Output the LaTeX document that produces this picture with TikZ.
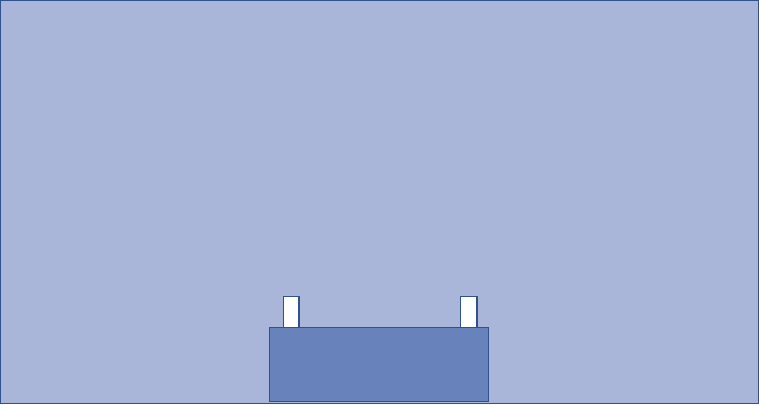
\documentclass[tikz,border=0pt]{standalone}
\definecolor{bgblue}{HTML}{A9B6D9}
\definecolor{boxblue}{HTML}{6882BC}
\definecolor{edgeblue}{HTML}{2F528F}
\begin{document}
\begin{tikzpicture}[x=1pt,y=-1pt,
  outlined/.style={draw=edgeblue,line width=1.2pt}]
\useasboundingbox (0,0) rectangle (759,404);
\path[outlined,fill=bgblue] (0.8,0.8) rectangle (758.2,403.2);
\path[outlined,fill=boxblue] (269.5,327.5) rectangle (488.5,401.5);
\path[outlined,fill=white] (283.5,296.5) rectangle (299,327.5);
\path[outlined,fill=white] (460.5,296.5) rectangle (477,327.5);
\end{tikzpicture}
\end{document}
